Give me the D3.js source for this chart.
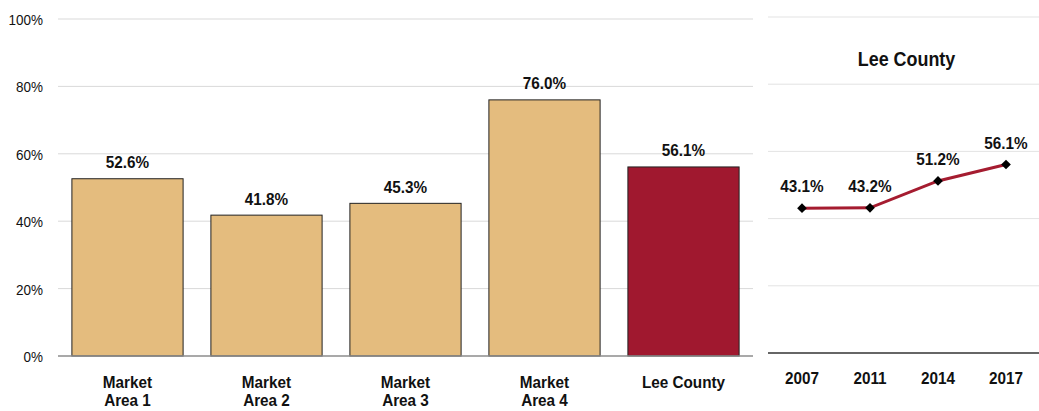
<!DOCTYPE html>
<html><head><meta charset="utf-8">
<script src="https://cdn.jsdelivr.net/npm/d3@7"></script>
<style>body{margin:0;background:#fff}text{font-family:"Liberation Sans",Arial,sans-serif;fill:#111}</style>
</head><body>
<svg id="c" width="1039" height="411"></svg>
<script>
const categories = [["Market","Area 1"],["Market","Area 2"],["Market","Area 3"],["Market","Area 4"],["Lee County"]];
const barValues = [52.6, 41.8, 45.3, 76.0, 56.1];
const barColors = ["#E4BC7E","#E4BC7E","#E4BC7E","#E4BC7E","#A0182F"];
const yTicks = [0, 20, 40, 60, 80, 100];
const years = ["2007","2011","2014","2017"];
const leeValues = [43.1, 43.2, 51.2, 56.1];
const lineTitle = "Lee County";

const svg = d3.select("#c");
const SX = 0.9; // condensed look of the reference font

function label(g, px, py, txt, size, anchor, sx, weight) {
  return g.append("text")
    .attr("transform", `translate(${px},${py}) scale(${sx},1)`)
    .attr("text-anchor", anchor).attr("font-size", size).attr("font-weight", weight || "bold")
    .text(txt);
}

// Left bar chart
const x = d3.scaleBand().domain(d3.range(categories.length)).range([58, 753]).paddingInner(0.2).paddingOuter(0.1);
const y = d3.scaleLinear().domain([0, 100]).range([356, 19]);

svg.append("g").selectAll("line").data(yTicks.filter(d => d > 0)).join("line")
  .attr("x1", 58).attr("x2", 753).attr("y1", d => y(d)).attr("y2", d => y(d))
  .attr("stroke", "#d9d9d9").attr("stroke-width", 1);

const yAxis = svg.append("g").attr("transform", "translate(58,0)")
  .call(d3.axisLeft(y).tickValues(yTicks).tickFormat(d => d + "%").tickSize(0).tickPadding(15));
yAxis.select(".domain").remove();
yAxis.selectAll(".tick text").remove();
yAxis.selectAll(".tick").each(function(d) {
  label(d3.select(this), -15, 5.5, d + "%", 15.5, "end", 0.87, "normal");
});

svg.append("g").selectAll("rect").data(barValues).join("rect")
  .attr("x", (d, i) => x(i)).attr("width", x.bandwidth())
  .attr("y", d => y(d)).attr("height", d => y(0) - y(d))
  .attr("fill", (d, i) => barColors[i]).attr("stroke", "#222").attr("stroke-width", 1);

svg.append("line").attr("x1", 58).attr("x2", 753).attr("y1", y(0)).attr("y2", y(0))
  .attr("stroke", "#8c8c8c").attr("stroke-width", 1.5);

const barLabels = svg.append("g");
barValues.forEach((d, i) => label(barLabels, x(i) + x.bandwidth() / 2, y(d) - 10.5, d.toFixed(1) + "%", 17, "middle", SX));

const catG = svg.append("g");
categories.forEach((lines, i) => {
  lines.forEach((ln, j) => label(catG, x(i) + x.bandwidth() / 2, 388 + j * 17.5, ln, 17, "middle", SX));
});

// Right line chart
const x2 = d3.scaleBand().domain(years).range([768, 1040]);
const y2 = d3.scaleLinear().domain([0, 100]).range([353, 17]);

svg.append("g").selectAll("line").data(yTicks.filter(d => d > 0)).join("line")
  .attr("x1", 768).attr("x2", 1039).attr("y1", d => y2(d)).attr("y2", d => y2(d))
  .attr("stroke", "#e3e3e3").attr("stroke-width", 1);

svg.append("line").attr("x1", 768).attr("x2", 1039).attr("y1", y2(0)).attr("y2", y2(0))
  .attr("stroke", "#333").attr("stroke-width", 1.5);

label(svg, (768 + 1039) / 2 + 3, 66, lineTitle, 19.5, "middle", 0.92);

const cx = yr => x2(yr) + x2.bandwidth() / 2;
const line = d3.line().x((d, i) => cx(years[i])).y(d => y2(d));
svg.append("path").datum(leeValues).attr("d", line).attr("fill", "none")
  .attr("stroke", "#A51C30").attr("stroke-width", 3);

svg.append("g").selectAll("path").data(leeValues).join("path")
  .attr("d", d3.symbol().type(d3.symbolDiamond2).size(60))
  .attr("transform", (d, i) => `translate(${cx(years[i])},${y2(d)})`)
  .attr("fill", "#000");

const ptLabels = svg.append("g");
leeValues.forEach((d, i) => label(ptLabels, cx(years[i]), y2(d) - 16, d.toFixed(1) + "%", 17, "middle", SX));

const yrLabels = svg.append("g");
years.forEach(yr => label(yrLabels, cx(yr), 384, yr, 17, "middle", SX));
</script>
</body></html>
